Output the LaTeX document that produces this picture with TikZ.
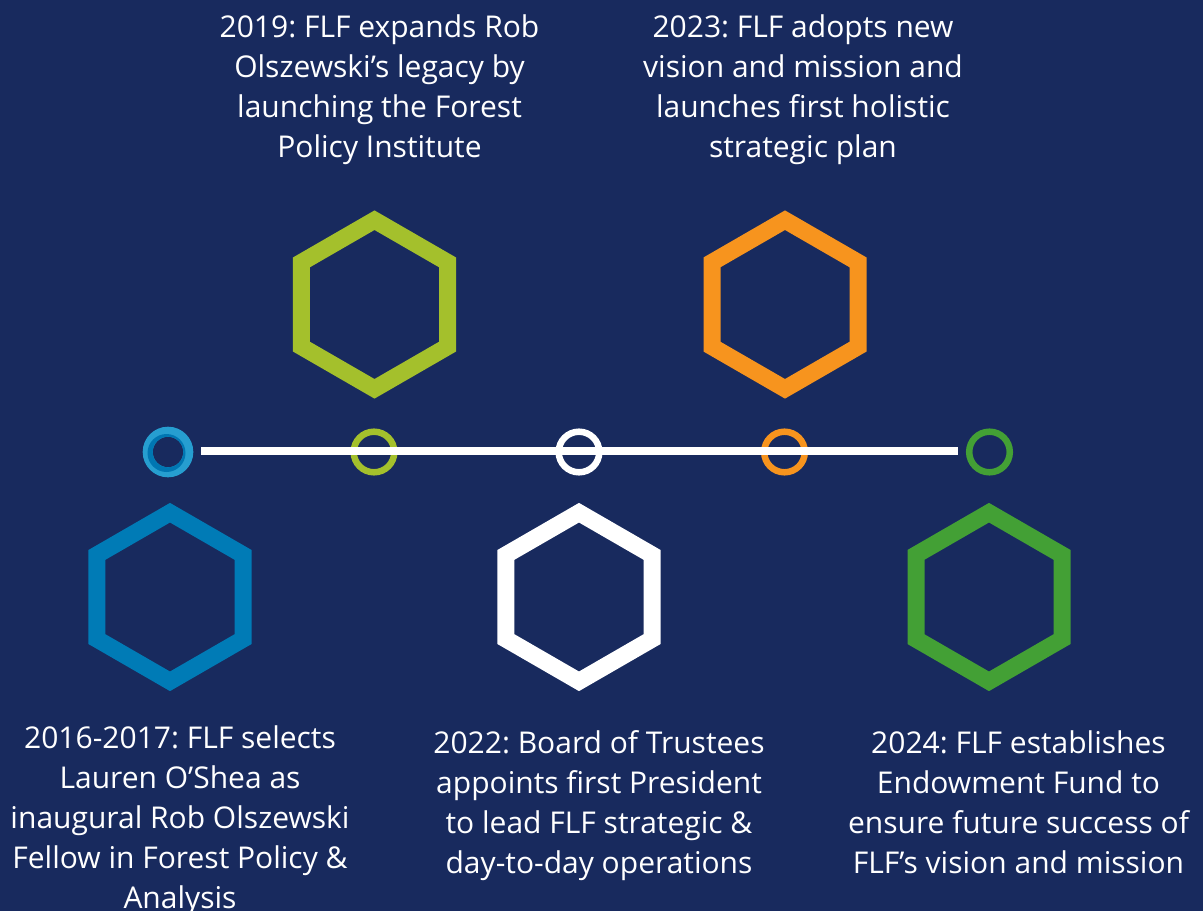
\documentclass[tikz,border=0pt]{standalone}
\usepackage{fontspec}
\setmainfont{Open Sans}
\frenchspacing
\definecolor{bgnavy}{RGB}{24,42,94}
\definecolor{hexblue}{RGB}{0,123,182}
\definecolor{ringlight}{RGB}{38,158,208}
\definecolor{ringdark}{RGB}{0,118,178}
\definecolor{lime}{RGB}{164,192,44}
\definecolor{flforange}{RGB}{247,148,30}
\definecolor{flfgreen}{RGB}{67,160,53}
\begin{document}
\begin{tikzpicture}[x=1pt,y=-1pt,
  hexa/.style={line width=17pt, line join=miter},
  ring/.style={circle, draw, line width=6.5pt, minimum size=40.6pt, inner sep=0pt},
  label/.style={text=white, align=center, anchor=base, inner sep=0pt,
    font={\fontsize{30}{40}\selectfont}},
  timeline/.style={draw=white, line width=8pt}]
\fill[bgnavy] (0,0) rectangle (1203,911);
\useasboundingbox (0,0) rectangle (1203,911);
% hexagons
\foreach \cx/\cy/\col in {170/597/hexblue, 374.5/304.5/lime, 579/597/white, 785/304.5/flforange, 989/597/flfgreen}
  \draw[hexa, draw=\col] (\cx,\cy) +(90:84.3) -- +(150:84.3) -- +(210:84.3) -- +(270:84.3) -- +(330:84.3) -- +(30:84.3) -- cycle;
% circles
\node[ring, draw=ringlight, line width=10pt] (c1) at (168,452) {};
\fill[ringdark, even odd rule] (166.5,453) circle[radius=19] (168,452) circle[radius=15.3];
\node[ring, draw=lime] (c2) at (374,452) {};
\node[ring, draw=white] (c3) at (579,452) {};
\node[ring, draw=flforange] (c4) at (784.5,452) {};
\node[ring, draw=flfgreen] (c5) at (989.5,452) {};
\coordinate (lstart) at (201,451);
\coordinate (lend) at (958,451);
\draw[timeline] (lstart) -- (lend);
% texts (anchor=base sits on the last line's baseline)
\node[label] (t2019) at (379.5,157) {2019: FLF expands Rob\\Olszewski’s legacy by\\launching the Forest\\Policy Institute};
\node[label] (t2023) at (803,157) {2023: FLF adopts new\\vision and mission and\\launches first holistic\\strategic plan};
\node[label] (t2016) at (180,908) {2016-2017: FLF selects\\Lauren O’Shea as\\inaugural Rob Olszewski\\Fellow in Forest Policy \&\\Analysis};
\node[label] (t2022) at (599,873) {2022: Board of Trustees\\appoints first President\\to lead FLF strategic \&\\day-to-day operations};
\node[label] (t2024) at (1018.5,873) {2024: FLF establishes\\Endowment Fund to\\ensure future success of\\FLF’s vision and mission};
\end{tikzpicture}
\end{document}
